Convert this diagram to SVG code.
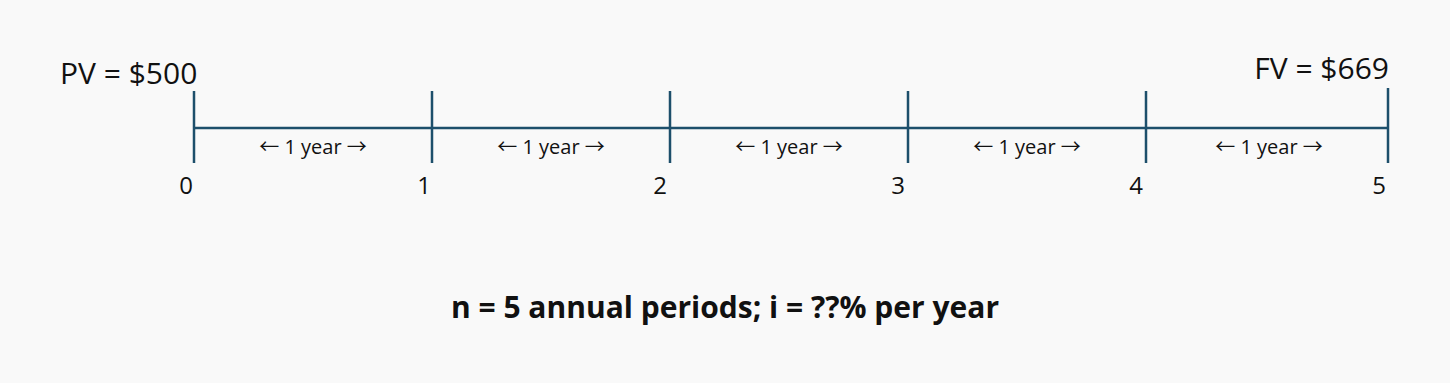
<svg xmlns="http://www.w3.org/2000/svg" width="1450" height="383" viewBox="0 0 1450 383">
<style>
text{font-family:"Open Sans","Noto Sans",sans-serif;fill:#111}
.big{font-size:30px}
.num{font-size:24px;text-anchor:end}
.yr{font-size:20px;text-anchor:middle}
.ar{font-family:"Noto Sans CJK SC",sans-serif;font-size:20px}
.title{font-size:30px;font-weight:bold;text-anchor:middle}
.ln{stroke:#1d4f6b;stroke-width:2.5;fill:none}
</style>
<rect width="1450" height="383" fill="#f9f9f9"/>
<g id="connectors">
<line class="ln" x1="194" y1="128" x2="1388" y2="128"/>
</g>
<g id="t0"><line class="ln" x1="194" y1="91" x2="194" y2="163"/><text class="num" x="193" y="194">0</text></g>
<g id="t1"><line class="ln" x1="432" y1="91" x2="432" y2="163"/><text class="num" x="431" y="194">1</text></g>
<g id="t2"><line class="ln" x1="670" y1="91" x2="670" y2="163"/><text class="num" x="667" y="194">2</text></g>
<g id="t3"><line class="ln" x1="908" y1="91" x2="908" y2="163"/><text class="num" x="905" y="194">3</text></g>
<g id="t4"><line class="ln" x1="1146" y1="91" x2="1146" y2="163"/><text class="num" x="1143" y="194">4</text></g>
<g id="t5"><line class="ln" x1="1388" y1="88" x2="1388" y2="163"/><text class="num" x="1386" y="194">5</text></g>
<g id="years">
<text class="yr" x="313" y="154"><tspan class="ar">←</tspan> 1 year <tspan class="ar">→</tspan></text>
<text class="yr" x="551" y="154"><tspan class="ar">←</tspan> 1 year <tspan class="ar">→</tspan></text>
<text class="yr" x="789" y="154"><tspan class="ar">←</tspan> 1 year <tspan class="ar">→</tspan></text>
<text class="yr" x="1027" y="154"><tspan class="ar">←</tspan> 1 year <tspan class="ar">→</tspan></text>
<text class="yr" x="1269" y="154"><tspan class="ar">←</tspan> 1 year <tspan class="ar">→</tspan></text>
</g>
<g id="pv"><text class="big" x="60" y="84">PV = $500</text></g>
<g id="fv"><text class="big" x="1389" y="79" text-anchor="end">FV = $669</text></g>
<g id="caption"><text class="title" x="725" y="318">n = 5 annual periods; i = ??% per year</text></g>
</svg>
